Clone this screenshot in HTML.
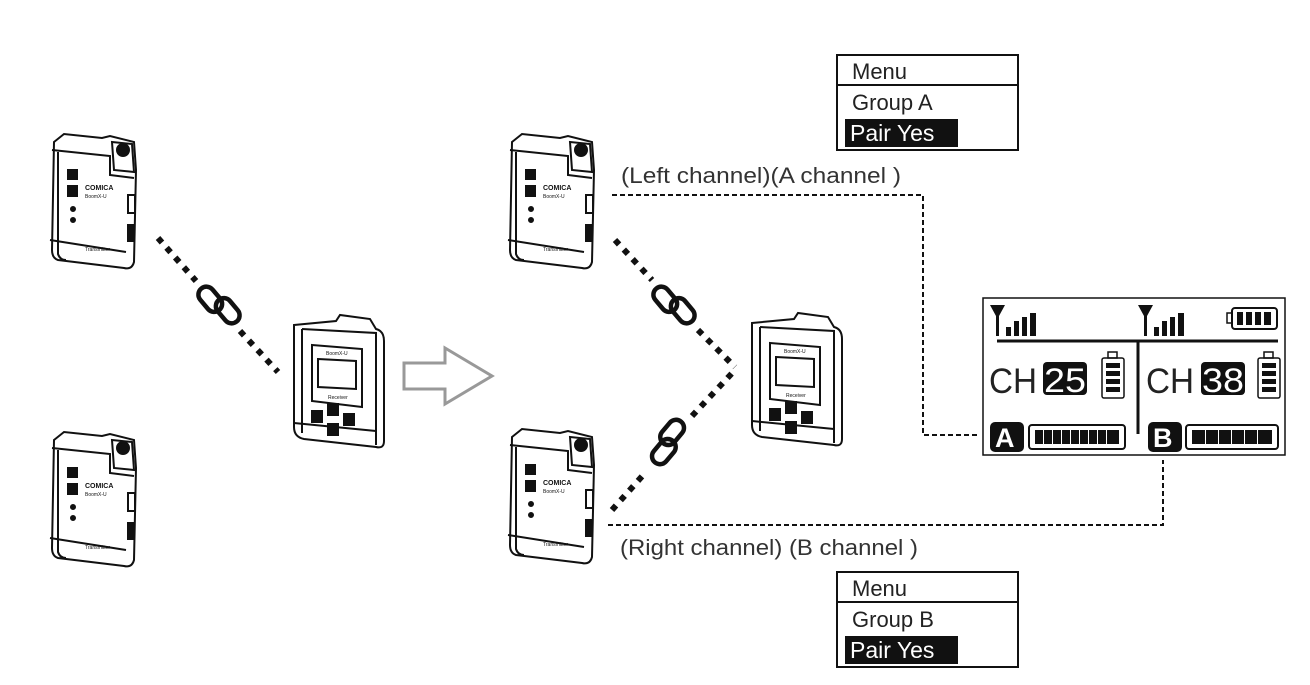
<!DOCTYPE html>
<html><head><meta charset="utf-8"><style>
html,body{margin:0;padding:0;background:#fff}
svg{display:block}
text{font-family:"Liberation Sans",sans-serif}
</style></head><body>
<svg width="1310" height="685" viewBox="0 0 1310 685" xmlns="http://www.w3.org/2000/svg">
<defs>
<g id="tx" fill="none" stroke="#111" stroke-width="2">
  <path d="M4,12 L14,4 L52,8 L60,6 L84,12 L86,40 L84,132 Q82,140 74,138 L8,130 Q2,128 2,120 Z" fill="#fff"/>
  <path d="M2,20 L60,26 L60,45 L84,48"/>
  <path d="M8,22 L8,124 Q10,130 16,130"/>
  <path d="M62,12 L82,14 L84,42 L64,40 Z"/>
  <circle cx="73" cy="20" r="6" fill="#111"/>
  <path d="M0,110 L76,122"/>
  <rect x="18" y="40" width="9" height="9" fill="#111"/>
  <rect x="18" y="56" width="9" height="10" fill="#111"/>
  <circle cx="23" cy="79" r="2" fill="#111"/>
  <circle cx="23" cy="90" r="2" fill="#111"/>
  <rect x="78" y="65" width="7" height="18"/>
  <rect x="78" y="95" width="5" height="16" fill="#111"/>
  <text x="35" y="60" font-size="7" fill="#111" stroke="none" font-weight="bold">COMICA</text>
  <text x="35" y="68" font-size="5" fill="#111" stroke="none">BoomX-U</text>
  <text x="35" y="121" font-size="5" fill="#111" stroke="none">Transmitter</text>
</g>
<g id="rx" fill="none" stroke="#111" stroke-width="2">
  <path d="M4,10 L46,6 L50,0 L80,4 L86,14 Q94,16 94,26 L94,126 Q94,134 86,132 L14,124 Q4,122 4,112 Z" fill="#fff"/>
  <path d="M12,14 L86,18 L86,130"/>
  <path d="M12,14 L12,118"/>
  <path d="M22,30 L72,34 L72,92 L22,86 Z"/>
  <path d="M28,44 L66,46 L66,74 L28,72 Z"/>
  <path d="M4,108 L86,116"/>
  <rect x="22" y="96" width="10" height="11" fill="#111"/>
  <rect x="38" y="89" width="10" height="11" fill="#111"/>
  <rect x="54" y="99" width="10" height="11" fill="#111"/>
  <rect x="38" y="109" width="10" height="11" fill="#111"/>
  <text x="36" y="40" font-size="5" fill="#111" stroke="none">BoomX-U</text>
  <text x="38" y="84" font-size="5" fill="#111" stroke="none">Receiver</text>
</g>
<g id="link" fill="none" stroke="#111" stroke-width="4.5">
  <rect x="-11" y="-24" width="16" height="28" rx="8"/>
  <rect x="-5" y="-4" width="16" height="28" rx="8"/>
</g>
</defs>

<use href="#tx" transform="translate(50,130)"/>
<use href="#tx" transform="translate(50,428)"/>
<use href="#rx" transform="translate(290,315)"/>
<use href="#tx" transform="translate(508,130)"/>
<use href="#tx" transform="translate(508,425)"/>
<use href="#rx" transform="translate(748,313)"/>

<g stroke="#111" stroke-width="6" stroke-dasharray="6 7">
  <line x1="158" y1="238" x2="196" y2="281"/>
  <line x1="240" y1="331" x2="278" y2="372"/>
  <line x1="615" y1="240" x2="652" y2="280"/>
  <line x1="698" y1="330" x2="735" y2="367"/>
  <line x1="612" y1="510" x2="645" y2="473"/>
  <line x1="692" y1="416" x2="735" y2="370"/>
</g>
<use href="#link" transform="translate(219,305) rotate(-40)"/>
<use href="#link" transform="translate(674,305) rotate(-40)"/>
<use href="#link" transform="translate(668,442) rotate(40)"/>

<path d="M404,363 L445,363 L445,348 L492,376 L445,404 L445,389 L404,389 Z" fill="#fff" stroke="#999" stroke-width="3"/>

<g fill="none" stroke="#111" stroke-width="2" stroke-dasharray="5 3">
  <path d="M612,195 L923,195 L923,435 L978,435"/>
  <path d="M608,525 L1163,525 L1163,460"/>
</g>

<text x="621" y="183" font-size="22" fill="#333" textLength="280" lengthAdjust="spacingAndGlyphs">(Left channel)(A channel )</text>
<text x="620" y="555" font-size="22" fill="#333" textLength="298" lengthAdjust="spacingAndGlyphs">(Right channel) (B channel )</text>

<g>
  <rect x="837" y="55" width="181" height="95" fill="#fff" stroke="#111" stroke-width="2"/>
  <line x1="837" y1="85" x2="1018" y2="85" stroke="#111" stroke-width="2"/>
  <text x="852" y="79" font-size="22" fill="#222">Menu</text>
  <text x="852" y="110" font-size="22" fill="#222">Group A</text>
  <rect x="845" y="119" width="113" height="28" fill="#111"/>
  <text x="850" y="141" font-size="23" fill="#fff">Pair Yes</text>
</g>
<g>
  <rect x="837" y="572" width="181" height="95" fill="#fff" stroke="#111" stroke-width="2"/>
  <line x1="837" y1="602" x2="1018" y2="602" stroke="#111" stroke-width="2"/>
  <text x="852" y="596" font-size="22" fill="#222">Menu</text>
  <text x="852" y="627" font-size="22" fill="#222">Group B</text>
  <rect x="845" y="636" width="113" height="28" fill="#111"/>
  <text x="850" y="658" font-size="23" fill="#fff">Pair Yes</text>
</g>

<g>
  <rect x="983" y="298" width="302" height="157" fill="#fff" stroke="#111" stroke-width="1.5"/>
  <line x1="997" y1="341" x2="1278" y2="341" stroke="#111" stroke-width="3"/>
  <line x1="1138" y1="341" x2="1138" y2="434" stroke="#111" stroke-width="3"/>
  <g fill="#111">
    <path d="M990,305 L1005,305 L999,316 L999,336 L996,336 L996,316 Z"/>
    <rect x="1006" y="327" width="5" height="9"/><rect x="1014" y="321" width="5" height="15"/><rect x="1022" y="317" width="5" height="19"/><rect x="1030" y="313" width="6" height="23"/>
    <path d="M1138,305 L1153,305 L1147,316 L1147,336 L1144,336 L1144,316 Z"/>
    <rect x="1154" y="327" width="5" height="9"/><rect x="1162" y="321" width="5" height="15"/><rect x="1170" y="317" width="5" height="19"/><rect x="1178" y="313" width="6" height="23"/>
  </g>
  <rect x="1232" y="308" width="45" height="21" rx="3" fill="none" stroke="#111" stroke-width="2"/>
  <rect x="1227" y="313" width="5" height="10" fill="none" stroke="#111" stroke-width="1.5"/>
  <g fill="#111"><rect x="1237" y="312" width="6" height="13"/><rect x="1246" y="312" width="6" height="13"/><rect x="1255" y="312" width="6" height="13"/><rect x="1264" y="312" width="7" height="13"/></g>
  <text x="989" y="393" font-size="35" fill="#222" textLength="48" lengthAdjust="spacingAndGlyphs">CH</text>
  <rect x="1043" y="362" width="44" height="33" rx="4" fill="#111"/>
  <text x="1044" y="392" font-size="34" fill="#fff" textLength="42" lengthAdjust="spacingAndGlyphs">25</text>
  <text x="1146" y="393" font-size="35" fill="#222" textLength="48" lengthAdjust="spacingAndGlyphs">CH</text>
  <rect x="1201" y="362" width="44" height="33" rx="4" fill="#111"/>
  <text x="1202" y="392" font-size="34" fill="#fff" textLength="42" lengthAdjust="spacingAndGlyphs">38</text>
  <g fill="none" stroke="#111" stroke-width="1.5">
    <rect x="1102" y="358" width="22" height="40" rx="2"/><rect x="1108" y="352" width="9" height="6"/>
    <rect x="1258" y="358" width="22" height="40" rx="2"/><rect x="1264" y="352" width="9" height="6"/>
  </g>
  <g fill="#111">
    <rect x="1106" y="363" width="14" height="5"/><rect x="1106" y="371" width="14" height="5"/><rect x="1106" y="379" width="14" height="5"/><rect x="1106" y="387" width="14" height="5"/>
    <rect x="1262" y="363" width="14" height="5"/><rect x="1262" y="371" width="14" height="5"/><rect x="1262" y="379" width="14" height="5"/><rect x="1262" y="387" width="14" height="5"/>
  </g>
  <rect x="990" y="422" width="34" height="30" rx="5" fill="#111"/>
  <text x="995" y="447" font-size="27" font-weight="bold" fill="#fff">A</text>
  <rect x="1148" y="422" width="34" height="30" rx="5" fill="#111"/>
  <text x="1153" y="447" font-size="27" font-weight="bold" fill="#fff">B</text>
  <rect x="1029" y="425" width="96" height="24" rx="3" fill="none" stroke="#111" stroke-width="2"/>
  <rect x="1035" y="430" width="84" height="14" fill="#111"/>
  <rect x="1186" y="425" width="92" height="24" rx="3" fill="none" stroke="#111" stroke-width="2"/>
  <rect x="1192" y="430" width="80" height="14" fill="#111"/>
  <g stroke="#fff" stroke-width="1">
    <line x1="1043.5" y1="430" x2="1043.5" y2="444"/><line x1="1052.5" y1="430" x2="1052.5" y2="444"/><line x1="1061.5" y1="430" x2="1061.5" y2="444"/><line x1="1070.5" y1="430" x2="1070.5" y2="444"/><line x1="1079.5" y1="430" x2="1079.5" y2="444"/><line x1="1088.5" y1="430" x2="1088.5" y2="444"/><line x1="1097.5" y1="430" x2="1097.5" y2="444"/><line x1="1106.5" y1="430" x2="1106.5" y2="444"/>
    <line x1="1205.5" y1="430" x2="1205.5" y2="444"/><line x1="1218.5" y1="430" x2="1218.5" y2="444"/><line x1="1231.5" y1="430" x2="1231.5" y2="444"/><line x1="1244.5" y1="430" x2="1244.5" y2="444"/><line x1="1257.5" y1="430" x2="1257.5" y2="444"/>
  </g>
</g>
</svg>
</body></html>
